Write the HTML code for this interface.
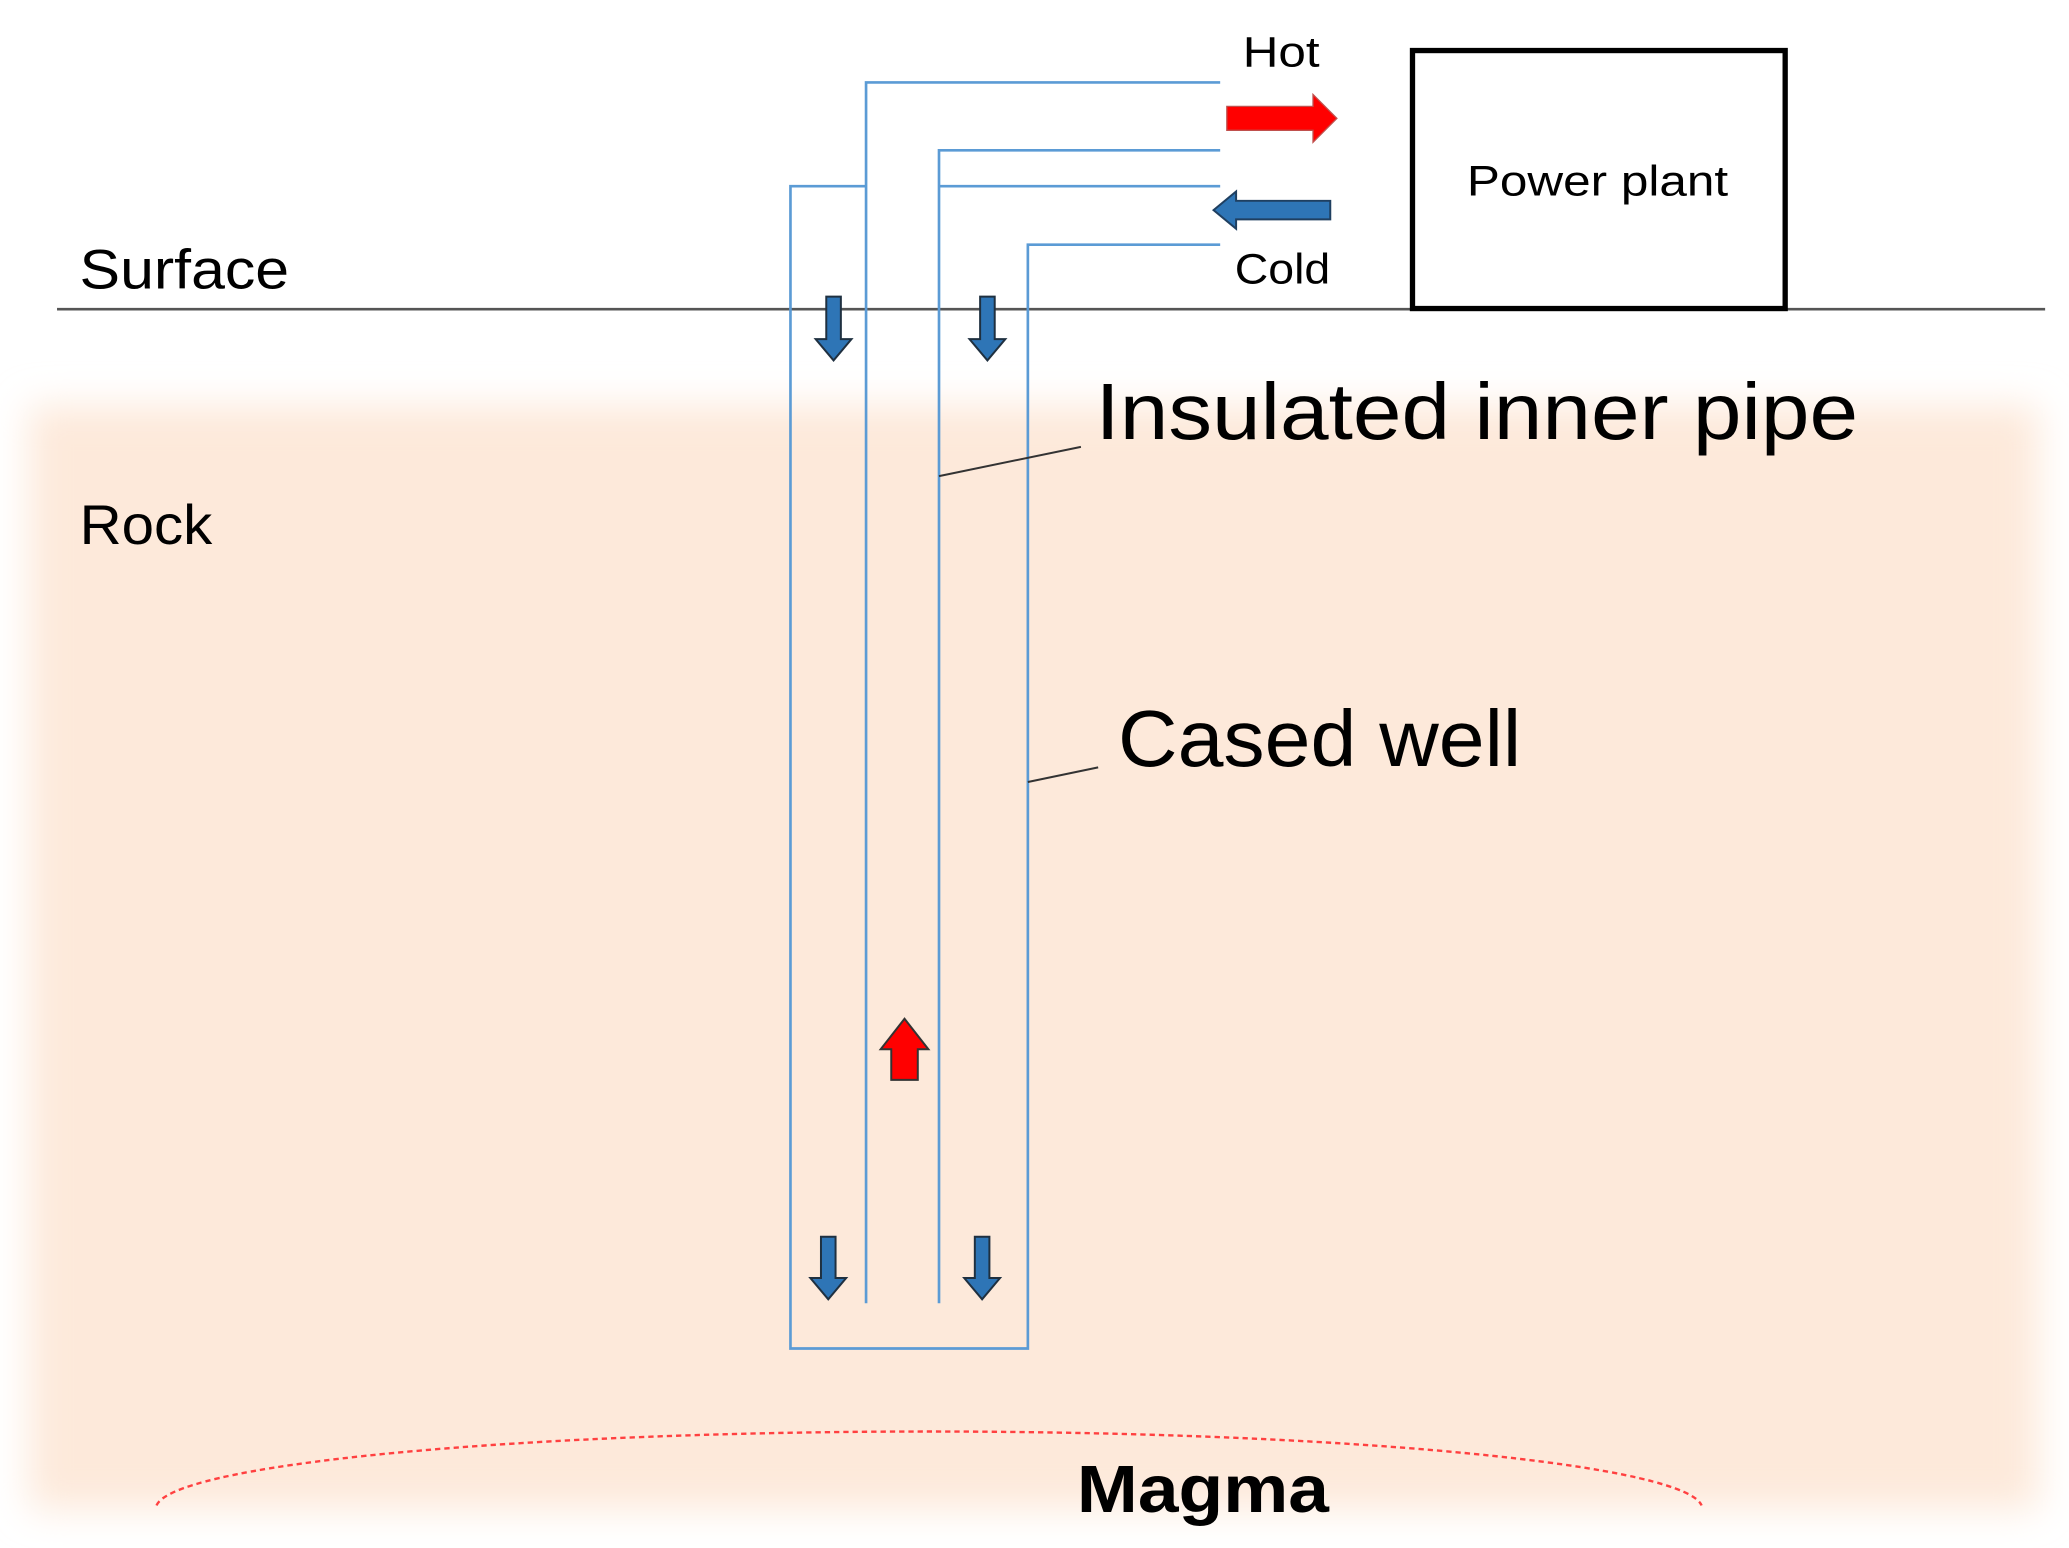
<!DOCTYPE html>
<html><head><meta charset="utf-8"><style>
html,body{margin:0;padding:0;background:#fff;}
svg{display:block;}
text{font-family:"Liberation Sans",sans-serif;fill:#000;}
</style></head><body>
<svg width="2069" height="1548" viewBox="0 0 1560 1164" preserveAspectRatio="none" xmlns="http://www.w3.org/2000/svg">
<defs>
<filter id="blur" x="-10%" y="-10%" width="120%" height="120%"><feGaussianBlur stdDeviation="14"/></filter>
</defs>
<rect x="22" y="305" width="1515" height="830" fill="#fde9da" filter="url(#blur)"/>
<line x1="43" y1="232.5" x2="1542" y2="232.5" stroke="#555" stroke-width="2"/>
<text x="60" y="217" font-size="42" textLength="158" lengthAdjust="spacingAndGlyphs">Surface</text>
<text x="60" y="409" font-size="42" textLength="100" lengthAdjust="spacingAndGlyphs">Rock</text>
<g fill="none" stroke="#5b9bd5" stroke-width="2">
<path d="M920 140 L708 140 M653 140 L596 140 L596 1014 L775 1014 L775 184 L920 184"/>
<path d="M920 62 L653 62 L653 980"/>
<path d="M920 113 L708 113 L708 980"/>
</g>
<path d="M925 80 L990 80 L990 71 L1008 89 L990 107 L990 98 L925 98 Z" fill="#ff0000" stroke="#c0504d" stroke-width="1"/>
<path d="M1003 151 L932 151 L932 144 L915 158 L932 172 L932 165 L1003 165 Z" fill="#2e75b6" stroke="#1f3f60" stroke-width="1.5"/>
<text x="937" y="50" font-size="32" textLength="58" lengthAdjust="spacingAndGlyphs">Hot</text>
<text x="931" y="213" font-size="32" textLength="72" lengthAdjust="spacingAndGlyphs">Cold</text>
<rect x="1065" y="38" width="281" height="194" fill="#fff" stroke="#000" stroke-width="4"/>
<text x="1106" y="147" font-size="32" textLength="197" lengthAdjust="spacingAndGlyphs">Power plant</text>
<g fill="#2e75b6" stroke="#1f3040" stroke-width="1.5">
<path d="M623 223 L634 223 L634 255 L642 255 L628.5 271 L615 255 L623 255 Z"/>
<path d="M739 223 L750 223 L750 255 L758 255 L744.5 271 L731 255 L739 255 Z"/>
<path d="M619 930 L630 930 L630 961 L638 961 L624.5 977 L611 961 L619 961 Z"/>
<path d="M735 930 L746 930 L746 961 L754 961 L740.5 977 L727 961 L735 961 Z"/>
</g>
<path d="M672 812 L672 789 L664 789 L682 766 L700 789 L692 789 L692 812 Z" fill="#ff0000" stroke="#333" stroke-width="1.5"/>
<line x1="708" y1="358" x2="815" y2="336" stroke="#333" stroke-width="1.5"/>
<text x="826" y="330" font-size="60" textLength="575" lengthAdjust="spacingAndGlyphs">Insulated inner pipe</text>
<line x1="775" y1="588" x2="828" y2="577" stroke="#333" stroke-width="1.5"/>
<text x="843" y="576" font-size="60" textLength="304" lengthAdjust="spacingAndGlyphs">Cased well</text>
<path d="M118 1132 A 583 58 0 0 1 1283 1132" fill="none" stroke="#ff4040" stroke-width="1.8" stroke-dasharray="4 3"/>
<text x="812" y="1137" font-size="50" font-weight="bold" textLength="190" lengthAdjust="spacingAndGlyphs">Magma</text>
</svg>
</body></html>
